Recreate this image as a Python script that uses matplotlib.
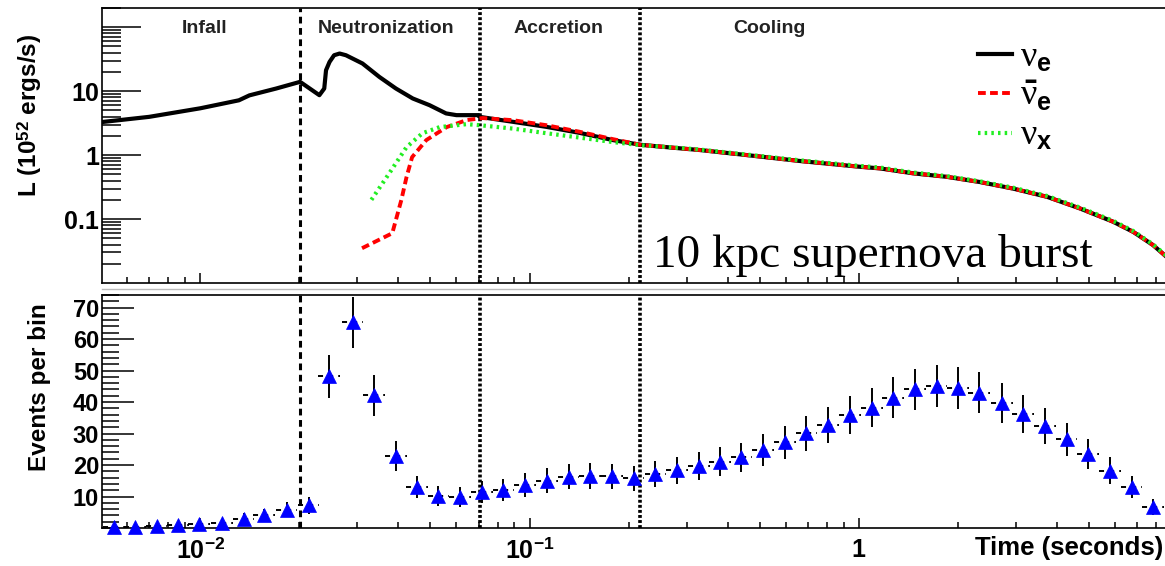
import numpy as np
import matplotlib
matplotlib.use("Agg")
import matplotlib.pyplot as plt
from matplotlib.ticker import LogLocator, NullFormatter, FixedLocator, MultipleLocator
from matplotlib.lines import Line2D

plt.rcParams['font.family'] = ['Liberation Sans', 'DejaVu Sans']
plt.rcParams['mathtext.fontset'] = 'custom'
plt.rcParams['mathtext.rm'] = 'Liberation Sans:bold'
plt.rcParams['mathtext.bf'] = 'Liberation Sans:bold'
plt.rcParams['mathtext.it'] = 'Liberation Serif'
plt.rcParams['mathtext.sf'] = 'Liberation Sans:bold'

# ---------------- data ----------------
# nu_e luminosity (10^52 erg/s) vs time (s)
t_nue = [0.005, 0.0070, 0.0100, 0.0131, 0.0141, 0.0170, 0.0201, 0.0230, 0.0238,
         0.0241, 0.0247, 0.0255, 0.0265, 0.0277, 0.0311, 0.0350, 0.0393, 0.0442,
         0.0497, 0.0558, 0.0600, 0.0700, 0.0705, 0.0890, 0.1124, 0.1419, 0.1790,
         0.2174, 0.2900, 0.3300, 0.4665, 0.6617, 1.00, 1.16, 1.46, 1.85, 2.33,
         2.94, 3.73, 4.69, 5.92, 6.82, 7.84, 8.51, 9.30]
L_nue = [3.28, 3.97, 5.4, 7.2, 8.6, 11.0, 14.0, 8.66, 11.0,
         21.3, 28.7, 36.5, 38.8, 36.5, 27.1, 16.7, 11.0, 7.69,
         6.04, 4.49, 4.22, 4.22, 3.97, 3.32, 2.77, 2.23, 1.72,
         1.45, 1.27, 1.20, 0.99, 0.81, 0.66, 0.62, 0.52, 0.458, 0.38,
         0.30, 0.223, 0.147, 0.091, 0.063, 0.039, 0.027, 0.018]

# anti-nu_e
t_anue = [0.0310, 0.0383, 0.0408, 0.0423, 0.0440, 0.0486, 0.0560, 0.0644, 0.0720,
          0.0890, 0.1124, 0.1419, 0.1790, 0.2174, 0.2900, 0.3300, 0.4665, 0.6617,
          1.00, 1.16, 1.46, 1.85, 2.33, 2.94, 3.73, 4.69, 5.92, 6.82, 7.84, 8.51, 9.30]
L_anue = [0.035, 0.060, 0.198, 0.45, 0.93, 1.72, 2.74, 3.53, 3.80,
          3.52, 2.94, 2.32, 1.78, 1.45, 1.27, 1.20, 0.99, 0.81,
          0.66, 0.62, 0.52, 0.458, 0.38, 0.30, 0.223, 0.147, 0.091, 0.063, 0.039, 0.027, 0.018]

# nu_x
t_nux = [0.0331, 0.0375, 0.0423, 0.0473, 0.0533, 0.0644, 0.0705, 0.0890, 0.1126,
         0.1419, 0.1790, 0.2174, 0.2900, 0.3300, 0.4665, 0.6617, 1.00, 1.16, 1.46,
         1.85, 2.33, 2.94, 3.73, 4.69, 5.92, 6.82, 7.84, 8.51, 9.30]
L_nux = [0.20, 0.52, 1.33, 2.20, 2.74, 3.05, 2.94, 2.60, 2.20,
         1.88, 1.60, 1.43, 1.29, 1.22, 1.01, 0.83, 0.68, 0.64, 0.535,
         0.47, 0.39, 0.31, 0.23, 0.152, 0.094, 0.065, 0.040, 0.028, 0.019]

# events per bin (log-spaced time bins)
t_bins = [0.005452, 0.006345, 0.007365, 0.008575, 0.00993, 0.01164, 0.01354, 0.01565,
          0.01829, 0.02134, 0.02466, 0.02903, 0.03363, 0.03934, 0.04544, 0.05289,
          0.06157, 0.07181, 0.08337, 0.09703, 0.1129, 0.1314, 0.1529, 0.1779, 0.2071,
          0.2411, 0.2804, 0.3265, 0.3781, 0.4401, 0.5119, 0.5960, 0.6934, 0.8066,
          0.9389, 1.098, 1.272, 1.480, 1.723, 2.004, 2.322, 2.721, 3.158, 3.676,
          4.279, 4.977, 5.792, 6.743, 7.844]
events = [0.34, 0.34, 0.65, 0.84, 1.16, 1.7, 2.96, 4.0, 5.8, 7.16, 48.2, 65.3, 42.2,
          22.85, 13.0, 10.1, 9.8, 11.4, 12.2, 13.7, 15.05, 16.3, 16.6, 16.4, 15.8,
          17.2, 18.4, 19.6, 21.05, 22.4, 24.7, 27.2, 30.1, 32.7, 35.8, 38.2, 41.4,
          44.0, 45.05, 44.5, 43.0, 39.6, 36.1, 32.4, 28.2, 23.5, 18.2, 13.0, 6.65]
errors = [0.6, 0.6, 0.8, 0.9, 1.1, 1.3, 1.7, 2.0, 2.4, 2.7, 6.9, 8.1, 6.5,
          4.8, 3.6, 3.2, 3.1, 3.4, 3.5, 3.7, 3.9, 4.0, 4.1, 4.0, 4.0,
          4.1, 4.3, 4.4, 4.6, 4.7, 5.0, 5.2, 5.5, 5.7, 6.0, 6.2, 6.4,
          6.6, 6.7, 6.7, 6.6, 6.3, 6.0, 5.7, 5.3, 4.8, 4.3, 3.6, 2.6]
bin_half_decades = 0.0329

phase_bounds = [0.0201, 0.0705, 0.217]
phase_names = ["Infall", "Neutronization", "Accretion", "Cooling"]
phase_label_t = [0.01028, 0.03675, 0.1225, 0.5363]

# ---------------- figure ----------------
W, H = 1165, 566
fig = plt.figure(figsize=(W / 100, H / 100), dpi=100)

def px_axes(x0, y0, x1, y1):
    return fig.add_axes([x0 / W, 1 - y1 / H, (x1 - x0) / W, (y1 - y0) / H])

XLIM = (0.00503, 9.26)
ax1 = px_axes(102, 8, 1177, 283)
ax2 = px_axes(102, 295, 1177, 528)

for ax in (ax1, ax2):
    ax.set_xscale('log')
    ax.set_xlim(*XLIM)
    for s in ax.spines.values():
        s.set_linewidth(1.2)
    ax.spines['right'].set_visible(False)

# ---- top panel ----
ax1.set_yscale('log')
ax1.set_ylim(0.01, 200)
ax1.plot(t_nue, L_nue, color='black', lw=3.0, solid_joinstyle='round', zorder=3)
ax1.plot(t_anue, L_anue, color='#ff0000', lw=2.8, linestyle=(0, (2.0, 1.1)), zorder=4)
ax1.plot(t_nux, L_nux, color='#22ee22', lw=3.0, linestyle=(0, (0.6, 1.0)), zorder=5)

ax1.axvline(phase_bounds[0], color='black', lw=2.2, linestyle=(0, (2.2, 1.5)), zorder=2)
for tb in phase_bounds[1:]:
    ax1.axvline(tb, color='black', lw=2.6, linestyle=(0, (0.8, 0.6)), zorder=2)

ax1.yaxis.set_major_locator(FixedLocator([0.1, 1, 10, 100]))
ax1.set_yticklabels(['0.1', '1', '10', ''])
ax1.yaxis.set_minor_locator(LogLocator(base=10, subs=np.arange(2, 10), numticks=20))
ax1.yaxis.set_minor_formatter(NullFormatter())
ax1.tick_params(axis='y', which='major', direction='in', length=28, width=1.1,
                labelsize=18, pad=2, right=False)
ax1.tick_params(axis='y', which='minor', direction='in', length=14, width=1.1, right=False)
for lab in ax1.get_yticklabels():
    lab.set_fontweight('bold')

ax1.xaxis.set_major_locator(FixedLocator([0.01, 0.1, 1]))
ax1.xaxis.set_minor_locator(LogLocator(base=10, subs=np.arange(2, 10), numticks=20))
ax1.xaxis.set_major_formatter(NullFormatter())
ax1.xaxis.set_minor_formatter(NullFormatter())
ax1.tick_params(axis='x', which='major', direction='in', length=7, width=1.1, top=False)
ax1.tick_params(axis='x', which='minor', direction='in', length=4, width=1.1, top=False)

for name, tl in zip(phase_names, phase_label_t):
    ax1.text(tl, 0.927, name, transform=ax1.get_xaxis_transform(), ha='center',
             va='center', fontsize=14, fontweight='bold', color='#222222')

ax1.text(0.5126, 0.058, "10 kpc supernova burst", transform=ax1.transAxes,
         fontsize=34, family='Liberation Serif', ha='left', va='baseline')

handles = [Line2D([], [], color='black', lw=3.0),
           Line2D([], [], color='#ff0000', lw=2.8, linestyle=(0, (2.0, 1.1))),
           Line2D([], [], color='#22ee22', lw=3.0, linestyle=(0, (0.6, 1.0)))]
labels = [r'$\nu_{\mathbf{e}}$', r'$\bar{\nu}_{\mathbf{e}}$', r'$\nu_{\mathbf{x}}$']
leg = ax1.legend(handles, labels, loc='upper left', bbox_to_anchor=(0.815, 0.885),
                 frameon=False, fontsize=26, handlelength=0.95, handletextpad=0.2,
                 labelspacing=0.12, borderaxespad=0, borderpad=0)

fig.text(30 / W, 1 - 115 / H, r"L (10$^{52}$ ergs/s)", rotation=90, ha='center',
         va='center', fontsize=17.5, fontweight='bold')

# ---- bottom panel ----
ax2.set_ylim(0, 74)
t_arr = np.array(t_bins)
ev = np.array(events)
lo = t_arr - t_arr * 10 ** (-bin_half_decades)
hi = t_arr * 10 ** (bin_half_decades) - t_arr
ebh = ax2.errorbar(t_arr, ev, xerr=[lo, hi], fmt='none', ecolor='black', elinewidth=1.4,
                   capsize=0, zorder=2)
ebh[2][0].set_linestyle((0, (2.6, 2.6)))
ax2.errorbar(t_arr, ev, yerr=errors, fmt='none', ecolor='black', elinewidth=1.4,
             capsize=0, zorder=2)
ax2.plot(t_arr, ev, linestyle='none', marker='^', color='blue', markersize=10,
         markeredgewidth=0.5, clip_on=False, zorder=4)

ax2.axvline(phase_bounds[0], color='black', lw=2.2, linestyle=(0, (2.2, 1.5)), zorder=1)
for tb in phase_bounds[1:]:
    ax2.axvline(tb, color='black', lw=2.6, linestyle=(0, (0.8, 0.6)), zorder=1)

ax2.yaxis.set_major_locator(FixedLocator([10, 20, 30, 40, 50, 60, 70]))
ax2.yaxis.set_minor_locator(MultipleLocator(2))
ax2.tick_params(axis='y', which='major', direction='in', length=23, width=1.1,
                labelsize=17, pad=2, right=False)
ax2.tick_params(axis='y', which='minor', direction='in', length=12, width=1.1, right=False)

ax2.xaxis.set_major_locator(FixedLocator([0.01, 0.1, 1]))
ax2.set_xticklabels([r'10$^{-2}$', r'10$^{-1}$', '1'])
ax2.xaxis.set_minor_locator(LogLocator(base=10, subs=np.arange(2, 10), numticks=20))
ax2.xaxis.set_minor_formatter(NullFormatter())
ax2.tick_params(axis='x', which='major', direction='in', length=7, width=1.1,
                labelsize=18, pad=7, top=False)
ax2.tick_params(axis='x', which='minor', direction='in', length=4, width=1.1, top=False)
for lab in ax2.get_yticklabels() + ax2.get_xticklabels():
    lab.set_fontweight('bold')

fig.text(40 / W, 1 - 387 / H, "Events per bin", rotation=90, ha='center', va='center',
         fontsize=17.5, fontweight='bold')
fig.text(1163 / W, 1 - 555 / H, "Time (seconds)", ha='right', va='baseline',
         fontsize=18.5, fontweight='bold')

# grey separator between the two panels
fig.add_artist(Line2D([102 / W, 1.0], [1 - 289 / H, 1 - 289 / H], color='#bbbbbb', lw=1.0))

fig.savefig("out.png", dpi=100)
